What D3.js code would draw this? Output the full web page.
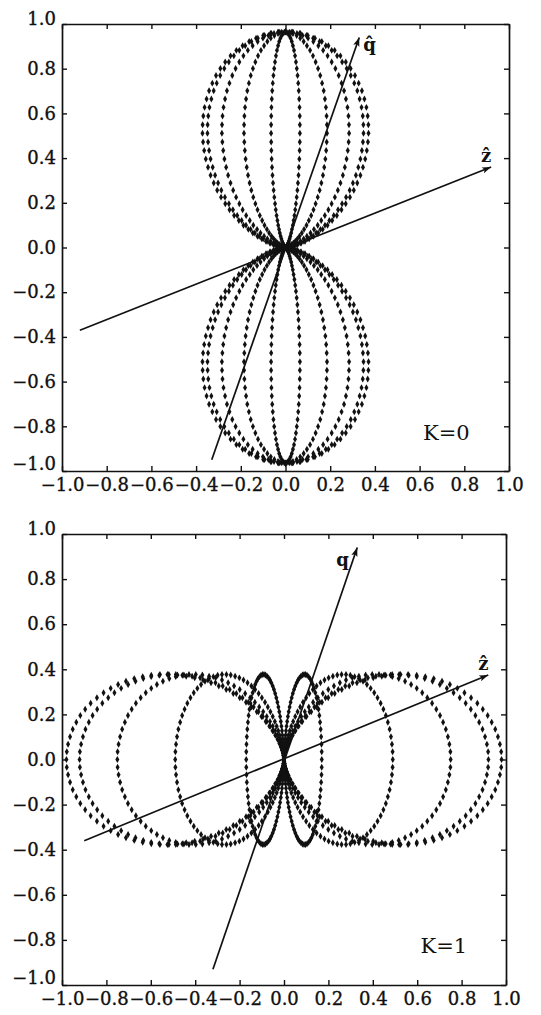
<!DOCTYPE html>
<html>
<head>
<meta charset="utf-8">
<script src="https://cdn.jsdelivr.net/npm/d3@7"></script>
<style>
  body { margin: 0; background: #fff; }
  svg { display: block; }
  .tick text { font-family: "DejaVu Serif", serif; font-size: 18px; fill: #111; stroke: #111; stroke-width: 0.35px; }
  .tag { font-family: "DejaVu Serif", serif; fill: #111; }
</style>
</head>
<body>
<svg id="chart" width="541" height="1015"></svg>
<script>
// Polar angle step (degrees) between successive samples of each profile.
const thetaStep = 2;

// Radial profile rho(theta), theta = 0..90 deg in 2 deg steps, K = 0 case.
const rhoK0 = [0.965, 0.964, 0.960, 0.954, 0.946, 0.936, 0.923, 0.909, 0.892, 0.873,
               0.852, 0.830, 0.805, 0.780, 0.752, 0.724, 0.694, 0.663, 0.632, 0.599,
               0.566, 0.533, 0.499, 0.466, 0.432, 0.399, 0.366, 0.333, 0.302, 0.271,
               0.241, 0.213, 0.185, 0.160, 0.135, 0.113, 0.092, 0.073, 0.056, 0.042,
               0.029, 0.019, 0.011, 0.005, 0.001, 0.000];

// Radial profile rho(theta), theta = 0..90 deg in 2 deg steps, K = 1 case.
const rhoK1 = [0.000, 0.001, 0.005, 0.011, 0.019, 0.030, 0.042, 0.057, 0.074, 0.094,
               0.115, 0.138, 0.162, 0.188, 0.216, 0.245, 0.275, 0.306, 0.339, 0.371,
               0.405, 0.439, 0.473, 0.507, 0.541, 0.575, 0.609, 0.641, 0.674, 0.705,
               0.735, 0.764, 0.792, 0.818, 0.842, 0.865, 0.886, 0.906, 0.923, 0.938,
               0.950, 0.961, 0.969, 0.975, 0.979, 0.980];

// Azimuths (degrees) of the meridian cuts that are drawn.
const azimuths = [0, 20, 40, 60, 80];

// Axis ticks and their labels.
const tickValues = [-1.0, -0.8, -0.6, -0.4, -0.2, 0.0, 0.2, 0.4, 0.6, 0.8, 1.0];
const tickLabels = ["\u22121.0", "\u22120.8", "\u22120.6", "\u22120.4", "\u22120.2",
                    "0.0", "0.2", "0.4", "0.6", "0.8", "1.0"];

// Direction arrows (start, end) in data units, and the case labels.
const qAxisK0 = [[-0.33, -0.95], [0.33, 0.94]];
const zAxisK0 = [[-0.92, -0.37], [0.92, 0.36]];
const qAxisK1 = [[-0.32, -0.93], [0.33, 0.94]];
const zAxisK1 = [[-0.90, -0.36], [0.92, 0.375]];
const caseLabels = ["K=0", "K=1"];

const svg = d3.select("#chart");

const panels = [
  { profile: rhoK0, q: qAxisK0, z: zAxisK0, label: caseLabels[0], qHat: true,
    box: { left: 62, right: 509, top: 24, bottom: 471 } },
  { profile: rhoK1, q: qAxisK1, z: zAxisK1, label: caseLabels[1], qHat: false,
    box: { left: 62, right: 506, top: 534, bottom: 985 } }
];

// Arrowhead used on both direction axes.
svg.append("defs").append("marker")
  .attr("id", "head")
  .attr("viewBox", "-10 -5 12 10")
  .attr("refX", 0).attr("refY", 0)
  .attr("markerWidth", 12).attr("markerHeight", 10)
  .attr("markerUnits", "userSpaceOnUse")
  .attr("orient", "auto")
  .append("path")
  .attr("d", "M0,0 L-9,-3.2 L-7,0 L-9,3.2 Z")
  .attr("fill", "#111");

// Points of every meridian cut: rho from the profile, projected onto the page plane.
function meridianPoints(profile) {
  const pts = [];
  const quarter = profile.length - 1;
  azimuths.forEach(phi => {
    const c = Math.cos(phi * Math.PI / 180);
    for (let k = 0; k < 4 * quarter; k++) {
      const deg = k * thetaStep;
      const t = deg % 180;
      const idx = t <= 90 ? t / thetaStep : (180 - t) / thetaStep;
      const r = profile[idx];
      const th = deg * Math.PI / 180;
      pts.push([r * Math.sin(th) * c, r * Math.cos(th)]);
    }
  });
  return pts;
}

const tickFmt = d => tickLabels[tickValues.findIndex(v => Math.abs(v - d) < 1e-9)];
const dot = d3.symbol().type(d3.symbolDiamond).size(14);

panels.forEach(p => {
  const b = p.box;
  const x = d3.scaleLinear().domain([-1, 1]).range([b.left, b.right]);
  const y = d3.scaleLinear().domain([-1, 1]).range([b.bottom, b.top]);
  const g = svg.append("g");

  // dotted meridians
  g.append("g").selectAll("path")
    .data(meridianPoints(p.profile))
    .join("path")
    .attr("d", dot)
    .attr("transform", d => `translate(${x(d[0])},${y(d[1])})`)
    .attr("fill", "#111");

  // direction arrows
  [p.q, p.z].forEach(a => {
    g.append("line")
      .attr("x1", x(a[0][0])).attr("y1", y(a[0][1]))
      .attr("x2", x(a[1][0])).attr("y2", y(a[1][1]))
      .attr("stroke", "#111").attr("stroke-width", 1.7)
      .attr("marker-end", "url(#head)");
  });

  // arrow labels (letter with combining circumflex)
  const qx = x(p.q[1][0]), qy = y(p.q[1][1]);
  const zx = x(p.z[1][0]), zy = y(p.z[1][1]);
  if (p.qHat) {
    g.append("text").attr("class", "tag").attr("x", qx + 4).attr("y", qy + 14)
      .attr("font-size", 18).attr("font-weight", "bold").text("q\u0302");
  } else {
    g.append("text").attr("class", "tag").attr("x", qx - 21).attr("y", qy + 18)
      .attr("font-size", 18).attr("font-weight", "bold").text("q");
  }
  g.append("text").attr("class", "tag").attr("x", zx - 10).attr("y", zy - 5)
    .attr("font-size", 18).attr("font-weight", "bold").text("z\u0302");

  // case label
  g.append("text").attr("class", "tag")
    .attr("x", x(0.72)).attr("y", y(-0.86))
    .attr("text-anchor", "middle").attr("font-size", 21)
    .text(p.label);

  // axes: labelled bottom/left, tick-only top/right, all ticks pointing inward
  g.append("g").attr("transform", `translate(0,${b.bottom})`)
    .call(d3.axisBottom(x).tickValues(tickValues).tickFormat(tickFmt)
      .tickSizeInner(-5).tickSizeOuter(0).tickPadding(7));
  const axL = g.append("g").attr("transform", `translate(${b.left},0)`)
    .call(d3.axisLeft(y).tickValues(tickValues).tickFormat(tickFmt)
      .tickSizeInner(-5).tickSizeOuter(0).tickPadding(6));
  g.append("g").attr("transform", `translate(0,${b.top})`)
    .call(d3.axisTop(x).tickValues(tickValues).tickFormat("")
      .tickSizeInner(-5).tickSizeOuter(0));
  g.append("g").attr("transform", `translate(${b.right},0)`)
    .call(d3.axisRight(y).tickValues(tickValues).tickFormat("")
      .tickSizeInner(-5).tickSizeOuter(0));

  g.selectAll(".domain").attr("stroke", "#111").attr("stroke-width", 1.7);
  g.selectAll(".tick line").attr("stroke", "#111").attr("stroke-width", 1.4);

  // end labels on the left axis sit a little higher than their ticks
  axL.selectAll(".tick text")
    .attr("dy", d => d === 1 ? "0.05em" : d === -1 ? "-0.1em" : "0.32em");
});
</script>
</body>
</html>
